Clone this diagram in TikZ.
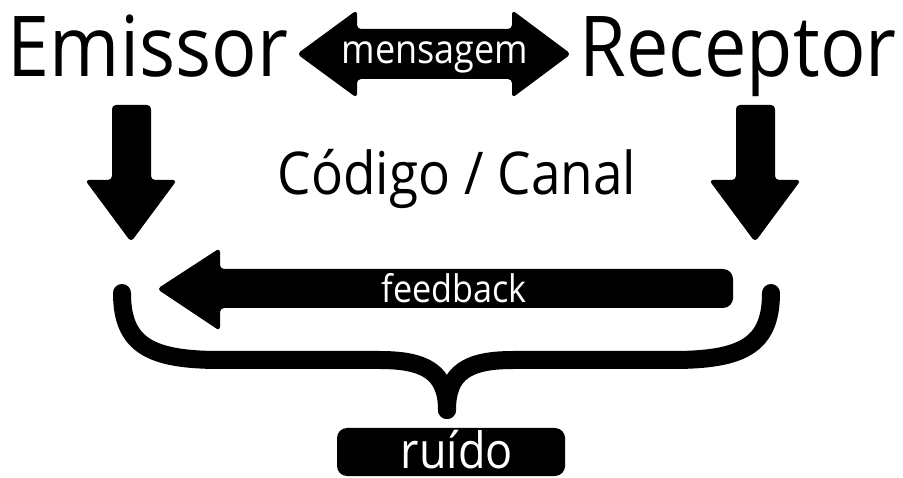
\documentclass[tikz,border=0pt]{standalone}
\usepackage{fontspec}
\setmainfont{Open Sans}[FakeStretch=0.9]
\tikzset{
  bigword/.style={inner sep=0pt, anchor=base, font=\fontsize{84}{84}\selectfont},
  midword/.style={inner sep=0pt, anchor=base, font=\fontsize{59}{59}\selectfont},
  onblack/.style={inner sep=0pt, anchor=base, text=white, text depth=0pt},
  solidshape/.style={fill=black, rounded corners=4pt},
  bracestroke/.style={draw=black, line width=18pt, line cap=round, line join=round}
}
\begin{document}
\begin{tikzpicture}[x=1pt,y=-1pt]
\useasboundingbox (0,0) rectangle (903,478);

% top row: sender, message, receiver
\node[bigword] (emissor) at (148,77) {Emissor};
\node[bigword] (receptor) at (738,77) {Receptor};

% double-headed message arrow
\fill[solidshape] (297,54) -- (357,10) -- (357,29) -- (512,29) -- (512,10)
  -- (571,54) -- (512,98) -- (512,79) -- (357,79) -- (357,98) -- cycle;
\node[onblack, font=\fontsize{40}{40}\selectfont] (msg) at (435,64) {mensagem};

% code / channel label
\node[midword] (canal) at (457,195) {Código / Canal};

% downward arrows under sender and receiver
\fill[solidshape] (112,105) -- (151,105) -- (151,180) -- (177,180) -- (131,242)
  -- (85,180) -- (112,180) -- cycle;
\fill[solidshape] (736,105) -- (775,105) -- (775,180) -- (801,180) -- (755,242)
  -- (709,180) -- (736,180) -- cycle;

% feedback arrow pointing back to the sender
\fill[solidshape] (157,289) -- (220,248) -- (220,269)
  {[rounded corners=10pt] -- (733,269) -- (733,308)} -- (220,308) -- (220,331) -- cycle;
\node[onblack, font=\fontsize{38}{38}\selectfont] (fb) at (454,303) {feedback};

% brace gathering everything into noise
\draw[bracestroke] (122,293) .. controls (122,345) and (150,360) .. (220,360)
  -- (380,360) .. controls (425,360) and (447,372) .. (447,410);
\draw[bracestroke] (771,293) .. controls (771,345) and (743,360) .. (673,360)
  -- (513,360) .. controls (468,360) and (447,372) .. (447,410);

% noise box
\fill[black, rounded corners=10pt] (337,428) rectangle (565,476);
\node[onblack, font=\fontsize{50}{50}\selectfont] (ruido) at (457,468) {ruído};
\end{tikzpicture}
\end{document}
